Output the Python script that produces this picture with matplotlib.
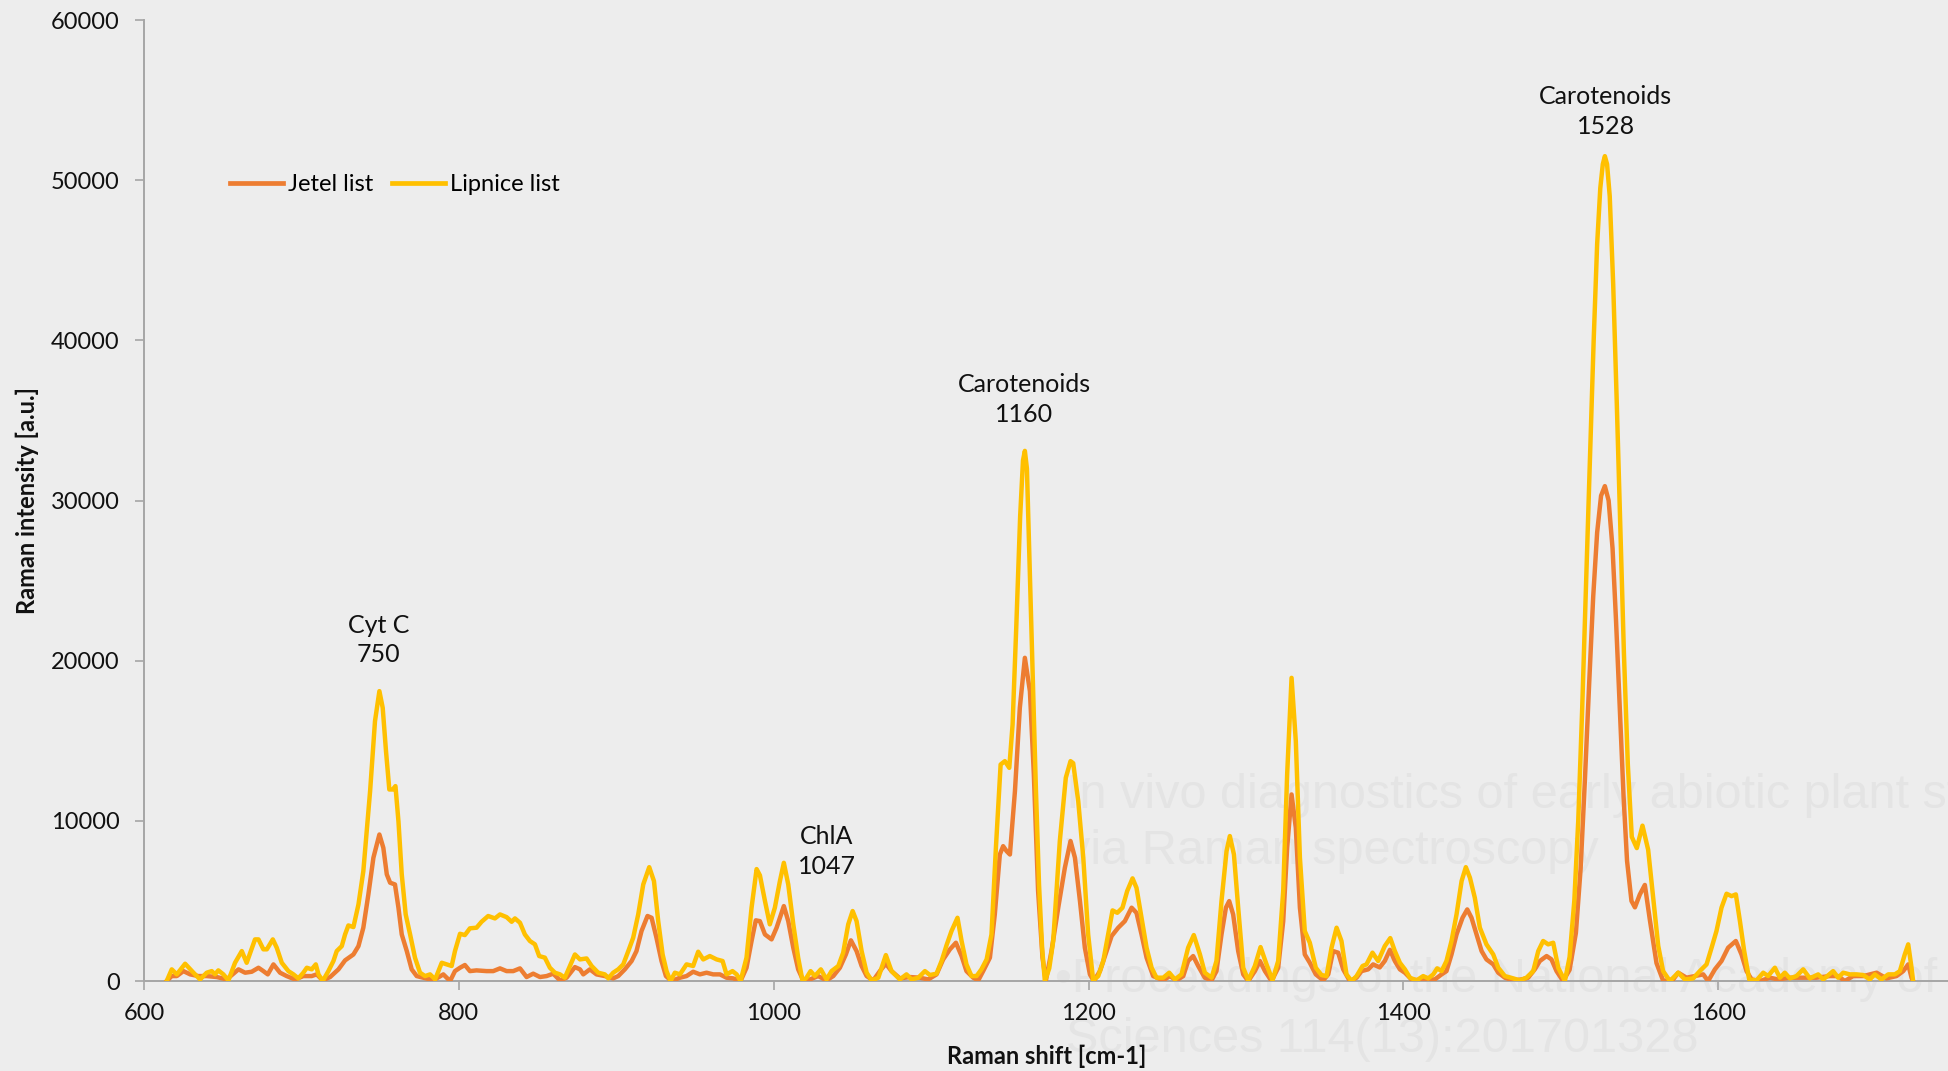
import matplotlib
matplotlib.use("Agg")
import matplotlib.pyplot as plt
import numpy as np

plt.rcParams['font.family'] = ['Lato', 'DejaVu Sans']

# Raman spectrum of clover leaf ("Jetel list")
jetel_shift = [
    614.4, 617.6, 620.8, 625.0, 629.3, 634.5, 639.8, 646.2, 652.5, 660.0, 664.2, 668.4,
    672.7, 675.8, 678.6, 682.2, 686.4, 690.6, 695.9, 701.2, 706.5, 709.7, 713.5, 718.2,
    723.5, 727.7, 733.0, 736.2, 739.3, 742.5, 745.7, 749.5, 752.0, 754.2, 756.3, 759.4,
    761.6, 763.7, 766.9, 770.0, 773.2, 777.4, 781.7, 785.9, 790.1, 794.4, 797.5, 800.7,
    803.8, 807.0, 811.2, 817.6, 821.8, 826.1, 830.3, 834.5, 838.8, 843.0, 847.2, 851.5,
    855.7, 859.9, 864.2, 868.4, 873.7, 876.9, 879.0, 883.2, 887.4, 892.7, 898.0, 901.2,
    905.4, 909.7, 912.8, 916.0, 919.8, 922.4, 925.5, 928.7, 931.5, 935.1, 940.4, 944.6,
    948.8, 953.1, 957.3, 961.5, 965.8, 970.0, 974.2, 978.9, 982.7, 985.9, 988.6, 991.2,
    994.4, 998.6, 1001.8, 1006.4, 1009.2, 1012.4, 1015.5, 1018.7, 1023.0, 1028.2, 1033.5, 1037.8,
    1042.0, 1045.8, 1049.0, 1052.6, 1055.8, 1059.0, 1063.2, 1067.4, 1071.2, 1074.8, 1080.1, 1086.5,
    1092.8, 1098.1, 1103.4, 1107.6, 1111.9, 1115.7, 1119.3, 1122.4, 1126.7, 1129.9, 1133.0, 1137.3,
    1140.4, 1143.6, 1145.7, 1147.9, 1150.0, 1153.2, 1156.3, 1159.5, 1162.7, 1165.2, 1167.9, 1170.7,
    1172.8, 1176.4, 1180.7, 1184.9, 1188.5, 1191.3, 1194.5, 1197.6, 1200.8, 1203.3, 1207.2, 1211.4,
    1214.6, 1218.8, 1223.0, 1227.3, 1230.4, 1233.6, 1236.8, 1241.0, 1247.4, 1251.6, 1255.8, 1260.1,
    1263.2, 1266.4, 1269.6, 1273.8, 1278.1, 1281.2, 1284.4, 1287.2, 1289.3, 1291.8, 1295.0, 1298.2,
    1301.4, 1305.6, 1308.8, 1312.0, 1316.2, 1320.4, 1323.6, 1326.1, 1328.9, 1331.6, 1334.2, 1337.3,
    1340.5, 1344.3, 1349.0, 1352.2, 1355.3, 1358.5, 1361.7, 1365.9, 1370.2, 1373.3, 1377.6, 1380.7,
    1384.9, 1388.1, 1391.4, 1394.5, 1397.7, 1400.9, 1405.1, 1410.4, 1415.7, 1419.9, 1424.2, 1427.3,
    1430.5, 1433.7, 1437.5, 1440.5, 1443.2, 1446.4, 1449.6, 1452.7, 1457.0, 1460.2, 1464.4, 1469.7,
    1475.0, 1479.2, 1483.4, 1486.6, 1490.9, 1494.0, 1497.2, 1501.4, 1505.5, 1509.5, 1512.5, 1515.2,
    1517.9, 1520.5, 1523.0, 1525.5, 1527.9, 1530.3, 1532.8, 1535.0, 1537.4, 1539.8, 1542.0, 1544.8,
    1547.0, 1550.1, 1553.3, 1556.5, 1560.7, 1565.0, 1571.3, 1574.5, 1579.8, 1585.1, 1590.4, 1593.5,
    1597.8, 1602.0, 1606.2, 1611.1, 1614.7, 1617.9, 1621.1, 1626.4, 1632.7, 1638.0, 1645.4, 1653.9,
    1662.3, 1670.8, 1676.1, 1680.3, 1685.6, 1692.0, 1700.5, 1706.8, 1713.2, 1717.4, 1720.6, 1722.7,
    1723.7,
]
jetel_intensity = [
    0, 310, 310, 620, 416, 310, 310, 250, 100, 730, 520, 580,
    830, 620, 416, 1040, 520, 310, 100, 310, 310, 416, 40, 250,
    730, 1290, 1660, 2180, 3330, 5410, 7700, 9150, 8320, 6660, 6140, 6030,
    4580, 2910, 1870, 730, 310, 208, 100, 166, 416, 0, 620, 830,
    1000, 620, 665, 620, 620, 790, 620, 620, 790, 250, 460, 250,
    310, 460, 40, 208, 870, 730, 416, 730, 416, 310, 166, 310,
    730, 1250, 1870, 3120, 4060, 3950, 2700, 1250, 310, 0, 208, 310,
    580, 416, 520, 416, 416, 208, 166, 0, 830, 2500, 3790, 3740,
    2910, 2600, 3330, 4680, 3740, 2080, 730, 40, 100, 310, 40, 310,
    830, 1660, 2540, 1870, 940, 310, 40, 620, 1080, 620, 166, 250,
    208, 100, 416, 1350, 1980, 2390, 1560, 620, 208, 40, 620, 1460,
    4160, 7900, 8420, 8110, 7900, 11860, 17060, 20180, 18100, 12900, 5620, 1460,
    0, 1870, 4580, 7070, 8740, 7700, 4990, 2080, 416, 0, 620, 1870,
    2810, 3330, 3740, 4580, 4260, 2910, 1460, 310, 40, 310, 40, 310,
    1250, 1560, 940, 208, 40, 620, 2910, 4580, 4990, 4160, 1870, 416,
    0, 620, 1250, 620, 0, 830, 3740, 8320, 11650, 9570, 4580, 1660,
    1140, 416, 40, 416, 1870, 1770, 730, 0, 208, 620, 730, 1040,
    850, 1250, 1950, 1250, 730, 520, 100, 40, 100, 100, 416, 620,
    1660, 2910, 3950, 4470, 3950, 2910, 1870, 1350, 1040, 520, 208, 40,
    100, 208, 730, 1250, 1560, 1350, 620, 0, 700, 3000, 7000, 12500,
    18500, 24000, 28000, 30300, 30900, 30000, 27000, 22500, 17000, 11500, 7500, 5000,
    4600, 5400, 6000, 3810, 1120, 0, 100, 520, 208, 310, 416, 0,
    730, 1250, 2080, 2500, 1660, 620, 100, 0, 208, 100, 208, 208,
    208, 310, 310, 0, 310, 310, 520, 166, 310, 620, 1040, 208,
    0,
]

# Raman spectrum of meadow grass leaf ("Lipnice list")
lipnice_shift = [
    614.4, 617.6, 620.8, 626.1, 631.4, 635.6, 639.8, 643.0, 645.1, 647.2, 650.4, 653.6,
    657.8, 662.1, 665.2, 670.5, 672.7, 675.8, 678.0, 681.8, 684.3, 687.5, 691.7, 694.9,
    698.0, 701.2, 703.4, 706.5, 709.1, 710.8, 713.5, 717.1, 720.3, 722.4, 725.6, 727.7,
    729.8, 733.0, 736.2, 739.3, 743.6, 746.7, 749.5, 751.6, 753.7, 755.8, 758.0, 759.7,
    761.6, 763.7, 766.2, 769.0, 772.1, 775.3, 778.5, 781.7, 784.9, 789.1, 792.3, 795.4,
    797.5, 800.7, 803.8, 807.0, 811.2, 814.4, 818.6, 822.9, 826.1, 830.3, 833.5, 835.6,
    838.8, 841.9, 845.1, 848.3, 851.0, 854.6, 857.8, 861.0, 864.2, 867.3, 870.5, 873.7,
    876.9, 881.1, 884.3, 888.5, 892.7, 894.9, 898.0, 901.2, 904.4, 907.6, 910.7, 913.9,
    917.1, 920.9, 923.9, 926.6, 929.4, 931.9, 934.4, 937.2, 940.4, 944.6, 948.8, 952.0,
    955.2, 959.4, 963.7, 967.5, 970.0, 973.8, 976.4, 978.9, 982.7, 985.9, 989.1, 991.2,
    994.4, 997.5, 1000.7, 1003.9, 1006.4, 1009.2, 1012.4, 1015.5, 1018.3, 1020.8, 1023.4, 1026.1,
    1029.9, 1033.5, 1036.7, 1041.0, 1044.1, 1047.3, 1050.1, 1052.6, 1055.8, 1059.0, 1062.1, 1066.4,
    1071.2, 1074.8, 1080.1, 1084.3, 1087.5, 1091.8, 1096.0, 1099.2, 1103.4, 1106.6, 1109.8, 1112.9,
    1116.7, 1119.3, 1122.4, 1125.6, 1128.8, 1131.9, 1135.2, 1138.3, 1141.1, 1144.1, 1146.8, 1149.6,
    1151.7, 1154.0, 1156.5, 1158.3, 1159.5, 1160.8, 1162.5, 1164.5, 1166.5, 1168.5, 1170.5, 1172.2,
    1175.0, 1177.5, 1181.7, 1185.5, 1188.5, 1190.2, 1193.4, 1196.6, 1199.7, 1202.9, 1206.1, 1209.3,
    1212.4, 1215.2, 1218.2, 1221.5, 1224.5, 1227.9, 1230.4, 1233.6, 1236.8, 1240.0, 1243.1, 1247.4,
    1251.2, 1254.8, 1259.0, 1263.2, 1266.8, 1270.7, 1273.8, 1278.1, 1281.2, 1284.4, 1287.6, 1289.7,
    1292.3, 1295.0, 1298.2, 1301.4, 1305.6, 1309.2, 1313.0, 1316.8, 1320.4, 1323.6, 1326.1, 1328.9,
    1331.6, 1334.2, 1337.3, 1340.5, 1344.3, 1347.9, 1351.1, 1354.3, 1357.5, 1360.6, 1363.8, 1367.0,
    1370.2, 1374.0, 1376.5, 1380.3, 1383.9, 1388.1, 1391.6, 1394.5, 1397.7, 1400.9, 1404.1, 1408.3,
    1412.5, 1415.7, 1418.9, 1421.4, 1424.2, 1427.3, 1430.5, 1433.7, 1436.9, 1439.6, 1442.2, 1445.3,
    1448.5, 1452.7, 1457.0, 1460.2, 1464.4, 1469.7, 1473.9, 1478.1, 1482.4, 1485.6, 1488.7, 1491.9,
    1495.1, 1498.3, 1502.5, 1505.5, 1508.5, 1511.0, 1513.5, 1516.0, 1518.4, 1520.8, 1523.0, 1525.0,
    1526.6, 1527.9, 1529.3, 1531.0, 1533.2, 1535.5, 1537.8, 1540.0, 1542.5, 1545.0, 1548.2, 1551.8,
    1555.4, 1558.6, 1561.8, 1564.9, 1569.2, 1574.5, 1578.7, 1584.0, 1588.2, 1592.5, 1595.7, 1598.8,
    1602.0, 1605.2, 1608.4, 1611.1, 1613.7, 1616.4, 1619.6, 1624.2, 1628.5, 1631.6, 1635.9, 1639.1,
    1642.2, 1645.4, 1649.6, 1653.9, 1658.1, 1663.4, 1666.6, 1672.9, 1676.1, 1679.3, 1683.5, 1687.7,
    1692.0, 1696.2, 1699.4, 1703.6, 1707.9, 1712.1, 1715.3, 1718.4, 1720.6, 1722.7, 1723.7,
]
lipnice_intensity = [
    0, 730, 416, 1080, 520, 100, 520, 620, 420, 665, 416, 40,
    1140, 1870, 1140, 2600, 2600, 1980, 1980, 2600, 2080, 1140, 620, 416,
    166, 520, 830, 730, 1040, 416, 0, 620, 1250, 1870, 2180, 2910,
    3470, 3370, 4780, 6860, 11860, 16220, 18100, 17060, 14350, 11960, 11960, 12170,
    9980, 6660, 4160, 2910, 1460, 520, 310, 416, 100, 1140, 1040, 940,
    1870, 2950, 2870, 3290, 3330, 3700, 4060, 3910, 4160, 3990, 3700, 3910,
    3640, 2910, 2500, 2290, 1560, 1460, 830, 520, 416, 208, 940, 1660,
    1350, 1410, 940, 520, 416, 166, 520, 730, 1040, 1870, 2700, 4160,
    6030, 7110, 6240, 3740, 1660, 620, 0, 520, 416, 1040, 940, 1830,
    1350, 1560, 1350, 1250, 416, 620, 416, 0, 1460, 4580, 6990, 6600,
    5000, 3540, 4580, 6240, 7380, 6030, 3540, 1460, 0, 208, 620, 310,
    730, 100, 620, 940, 1770, 3540, 4370, 3740, 1870, 520, 40, 208,
    1620, 620, 100, 416, 100, 208, 620, 375, 460, 1250, 2250, 3120,
    3950, 2500, 1040, 310, 310, 730, 1350, 2910, 8320, 13520, 13730, 13310,
    16020, 22000, 29000, 32500, 33100, 32000, 26000, 19000, 12000, 6000, 2000, 0,
    800, 2500, 8740, 12690, 13730, 13600, 11230, 7700, 2910, 40, 310, 1250,
    2910, 4410, 4260, 4580, 5620, 6410, 5820, 3950, 2080, 830, 208, 208,
    520, 100, 416, 2080, 2870, 1660, 520, 208, 1250, 4990, 8110, 9050,
    7900, 4580, 830, 40, 940, 2120, 1040, 40, 1250, 5620, 12900, 18930,
    14980, 7700, 3120, 2390, 830, 375, 310, 2080, 3330, 2500, 416, 0,
    310, 940, 1040, 1770, 1250, 2180, 2680, 1870, 1140, 730, 208, 40,
    310, 166, 416, 790, 620, 1250, 2500, 4160, 6240, 7110, 6450, 5200,
    3330, 2290, 1660, 830, 310, 166, 40, 208, 620, 1870, 2500, 2290,
    2390, 830, 0, 1500, 5000, 10000, 17000, 25000, 32500, 40000, 46000, 49500,
    51000, 51500, 51000, 49000, 43500, 36000, 28000, 20500, 13500, 9000, 8300, 9700,
    8200, 5200, 2200, 620, 0, 520, 100, 166, 620, 1040, 2080, 3120,
    4580, 5450, 5300, 5410, 3740, 1870, 100, 40, 520, 310, 830, 208,
    520, 166, 310, 730, 166, 416, 100, 620, 208, 520, 416, 416,
    375, 100, 416, 100, 416, 416, 620, 1660, 2290, 830, 0,
]

series_names = ["Jetel list", "Lipnice list"]
series_colors = ["#ED7D31", "#FFC000"]

# Band assignments written above the peaks
band_labels = ["Cyt C\n750", "ChlA\n1047", "Carotenoids\n1160", "Carotenoids\n1528"]
band_x = [749, 1033.5, 1159, 1528.5]
band_y = [21300, 8100, 36300, 54300]

x_ticks = [600, 800, 1000, 1200, 1400, 1600]
y_ticks = [0, 10000, 20000, 30000, 40000, 50000, 60000]

source_lines = [
    "In vivo diagnostics of early abiotic plant stress",
    "via Raman spectroscopy",
    "\u2022Proceedings of the National Academy of",
    "Sciences 114(13):201701328",
]

bg = "#EDEDED"
axis_grey = "#A6A6A6"

fig = plt.figure(figsize=(19.49, 10.71), dpi=100, facecolor=bg)
ax = fig.add_axes([0.0739, 0.084, 0.9261, 0.8973])
ax.set_facecolor(bg)

# faint source note, kept underneath the curves
src_x = [0.547, 0.547, 0.5415, 0.547]
src_y = [0.2456, 0.1933, 0.0735, 0.0175]
for txt, sx, sy in zip(source_lines, src_x, src_y):
    ax.text(sx, sy, txt, transform=fig.transFigure, color="#E4E4E4", fontsize=35,
            family=["Liberation Sans", "DejaVu Sans"], ha="left", va="baseline",
            zorder=1, clip_on=False)

ax.plot(jetel_shift, jetel_intensity, color=series_colors[0], lw=3.2,
        solid_joinstyle="round", label=series_names[0], zorder=3)
ax.plot(lipnice_shift, lipnice_intensity, color=series_colors[1], lw=3.2,
        solid_joinstyle="round", label=series_names[1], zorder=4)

for txt, bx, by in zip(band_labels, band_x, band_y):
    ax.text(bx, by, txt, ha="center", va="center", multialignment="center",
            fontsize=18, color="#111111", linespacing=1.35, zorder=5)

ax.set_xlim(600, 1746.5)
ax.set_ylim(0, 60000)
ax.set_xticks(x_ticks)
ax.set_yticks(y_ticks)
ax.tick_params(axis="both", direction="out", length=6.5, width=1.2,
               color=axis_grey, labelsize=17, labelcolor="#111111")
ax.tick_params(axis="y", pad=11)
ax.tick_params(axis="x", pad=9)

for side in ["top", "right"]:
    ax.spines[side].set_visible(False)
for side in ["left", "bottom"]:
    ax.spines[side].set_color(axis_grey)
    ax.spines[side].set_linewidth(1.4)
    ax.spines[side].set_zorder(2)

ax.set_xlabel("Raman shift [cm-1]", fontsize=17, fontweight="bold", color="#111111")
ax.set_ylabel("Raman intensity [a.u.]", fontsize=17, fontweight="bold", color="#111111")
ax.xaxis.set_label_coords(0.5, -0.066)
ax.yaxis.set_label_coords(-0.058, 0.5)

leg = ax.legend(loc="center left", bbox_to_anchor=(0.0476, 0.829), ncol=2,
                frameon=False, fontsize=17, handlelength=2.25, handletextpad=0.2,
                columnspacing=0.8, borderaxespad=0, borderpad=0)
for line in leg.get_lines():
    line.set_linewidth(3.4)

fig.savefig("out.png", dpi=100, facecolor=bg)
